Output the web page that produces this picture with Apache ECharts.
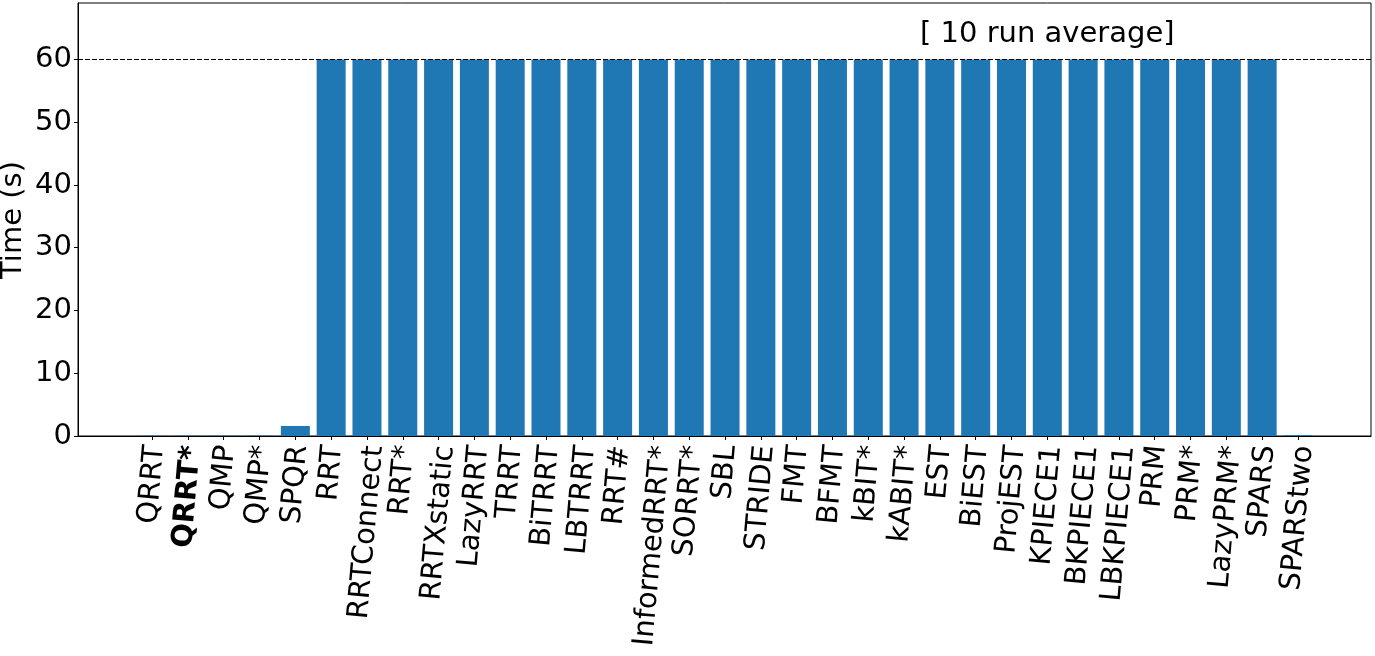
<!DOCTYPE html>
<html>
<head>
<meta charset="utf-8">
<script src="https://cdn.jsdelivr.net/npm/echarts@6/dist/echarts.min.js"></script>
<style>
html, body { margin: 0; padding: 0; background: #fff; }
#chart { width: 1375px; height: 656px; }
</style>
</head>
<body>
<div id="chart"></div>
<script>
// planners, in plot order
const planners = ['QRRT', 'QRRT*', 'QMP', 'QMP*', 'SPQR', 'RRT', 'RRTConnect', 'RRT*', 'RRTXstatic',
  'LazyRRT', 'TRRT', 'BiTRRT', 'LBTRRT', 'RRT#', 'InformedRRT*', 'SORRT*', 'SBL', 'STRIDE', 'FMT',
  'BFMT', 'kBIT*', 'kABIT*', 'EST', 'BiEST', 'ProjEST', 'KPIECE1', 'BKPIECE1', 'LBKPIECE1', 'PRM',
  'PRM*', 'LazyPRM*', 'SPARS', 'SPARStwo']
// mean solve time (s), 60 = timeout
const times = [0.05, 0.05, 0.05, 0.05, 1.6, 60, 60, 60, 60,
  60, 60, 60, 60, 60, 60, 60, 60, 60, 60,
  60, 60, 60, 60, 60, 60, 60, 60, 60, 60,
  60, 60, 60, 0.15]
const yTicks = [0, 10, 20, 30, 40, 50, 60]
const timeLimit = 60
const boldName = 'QRRT*'

const FONT = 'DejaVu Sans'
const FS = 29
const ROT = 85
const idx = planners.map((p, i) => i)

// matplotlib centres the rotated label box on the tick, echarts pins the label end to it:
// push every label sideways by half its rotated width
const ctx = document.createElement('canvas').getContext('2d')
const rich = {}
planners.forEach((p, i) => {
  const bold = p === boldName
  ctx.font = (bold ? 'bold ' : '') + FS + 'px "' + FONT + '"'
  const w = ctx.measureText(p).width
  const shift = w / 2 * Math.cos(ROT * Math.PI / 180)
  rich['l' + i] = {
    fontFamily: FONT,
    fontSize: FS,
    fontWeight: bold ? 'bold' : 'normal',
    color: '#000',
    padding: [shift * 2, 0, 0, 0]
  }
})

let chart = echarts.init(document.getElementById('chart'), null, { renderer: 'canvas' })
let option = {
  animation: false,
  title: {
    text: '[ 10 run average]',
    left: 915,
    top: 15,
    textStyle: { fontFamily: FONT, fontSize: FS, fontWeight: 'normal', color: '#000' }
  },
  // y axis title, placed by hand (axis name kept moving)
  graphic: [{
    type: 'text',
    x: 13,
    y: 220,
    rotation: Math.PI / 2,
    style: {
      text: 'Time (s)',
      fontFamily: FONT,
      fontSize: FS,
      fill: '#000',
      align: 'center',
      verticalAlign: 'middle'
    }
  }],
  grid: {
    left: 78,
    right: 4,
    top: 3,
    bottom: 220,
    outerBoundsMode: 'none',
    containLabel: false,
    show: true,
    borderColor: '#000',
    borderWidth: 1
  },
  xAxis: {
    type: 'value',
    min: -2.07,
    max: 34.04,
    splitLine: { show: false },
    axisLine: { onZero: false, lineStyle: { color: '#000', width: 1 } },
    axisTick: {
      customValues: idx,
      length: 4,
      lineStyle: { color: '#000' }
    },
    axisLabel: {
      customValues: idx,
      rotate: ROT,
      margin: 9,
      color: '#000',
      fontFamily: FONT,
      fontSize: FS,
      formatter: function (v) {
        const i = Math.round(v)
        return '{l' + i + '|' + planners[i] + '}'
      },
      rich: rich
    }
  },
  yAxis: {
    type: 'value',
    min: 0,
    max: 69,
    splitLine: { show: false },
    axisLine: { show: true, onZero: false, lineStyle: { color: '#000', width: 1 } },
    axisTick: {
      show: true,
      customValues: yTicks,
      length: 4,
      lineStyle: { color: '#000' }
    },
    axisLabel: {
      customValues: yTicks,
      margin: 6,
      color: '#000',
      fontFamily: FONT,
      fontSize: FS
    }
  },
  series: [{
    type: 'bar',
    data: times.map((t, i) => [i, t]),
    barWidth: 29,
    itemStyle: { color: '#1f77b4' },
    markLine: {
      silent: true,
      symbol: 'none',
      label: { show: false },
      lineStyle: { color: '#000', type: [5, 2], width: 1 },
      data: [{ yAxis: timeLimit }]
    }
  }]
}
chart.setOption(option)
</script>
</body>
</html>
